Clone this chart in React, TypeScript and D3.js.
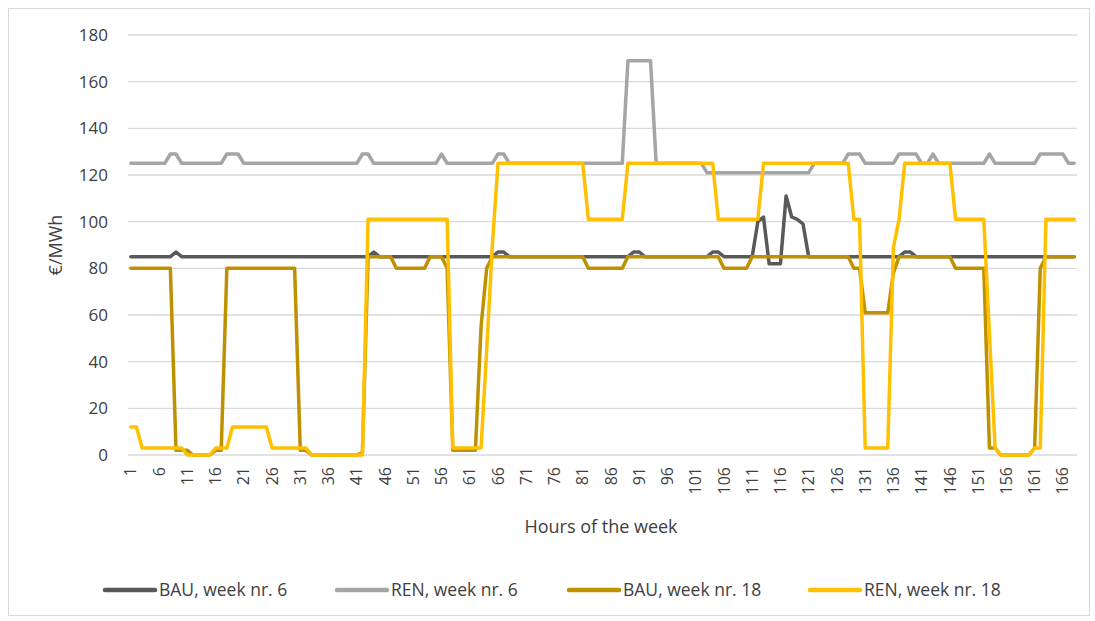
import React from "react";
import * as d3 from "d3";

// hours of the week, 1..168
const hours: number[] = d3.range(1, 169);

const bauWeek6 = [
  85, 85, 85, 85, 85, 85, 85, 85, 87, 85, 85, 85,
  85, 85, 85, 85, 85, 85, 85, 85, 85, 85, 85, 85,
  85, 85, 85, 85, 85, 85, 85, 85, 85, 85, 85, 85,
  85, 85, 85, 85, 85, 85, 85, 87, 85, 85, 85, 85,
  85, 85, 85, 85, 85, 85, 85, 85, 85, 85, 85, 85,
  85, 85, 85, 85, 85, 87, 87, 85, 85, 85, 85, 85,
  85, 85, 85, 85, 85, 85, 85, 85, 85, 85, 85, 85,
  85, 85, 85, 85, 85, 87, 87, 85, 85, 85, 85, 85,
  85, 85, 85, 85, 85, 85, 85, 87, 87, 85, 85, 85,
  85, 85, 85, 100, 102, 82, 82, 82, 111, 102, 101, 99,
  85, 85, 85, 85, 85, 85, 85, 85, 85, 85, 85, 85,
  85, 85, 85, 85, 85, 87, 87, 85, 85, 85, 85, 85,
  85, 85, 85, 85, 85, 85, 85, 85, 85, 85, 85, 85,
  85, 85, 85, 85, 85, 85, 85, 85, 85, 85, 85, 85,
];

const renWeek6 = [
  125, 125, 125, 125, 125, 125, 125, 129, 129, 125, 125, 125,
  125, 125, 125, 125, 125, 129, 129, 129, 125, 125, 125, 125,
  125, 125, 125, 125, 125, 125, 125, 125, 125, 125, 125, 125,
  125, 125, 125, 125, 125, 129, 129, 125, 125, 125, 125, 125,
  125, 125, 125, 125, 125, 125, 125, 129, 125, 125, 125, 125,
  125, 125, 125, 125, 125, 129, 129, 125, 125, 125, 125, 125,
  125, 125, 125, 125, 125, 125, 125, 125, 125, 125, 125, 125,
  125, 125, 125, 125, 169, 169, 169, 169, 169, 125, 125, 125,
  125, 125, 125, 125, 125, 125, 121, 121, 121, 121, 121, 121,
  121, 121, 121, 121, 121, 121, 121, 121, 121, 121, 121, 121,
  121, 125, 125, 125, 125, 125, 125, 129, 129, 129, 125, 125,
  125, 125, 125, 125, 129, 129, 129, 129, 125, 125, 129, 125,
  125, 125, 125, 125, 125, 125, 125, 125, 129, 125, 125, 125,
  125, 125, 125, 125, 125, 129, 129, 129, 129, 129, 125, 125,
];

const bauWeek18 = [
  80, 80, 80, 80, 80, 80, 80, 80, 2, 2, 2, 0,
  0, 0, 0, 2, 2, 80, 80, 80, 80, 80, 80, 80,
  80, 80, 80, 80, 80, 80, 2, 2, 0, 0, 0, 0,
  0, 0, 0, 0, 0, 1, 85, 85, 85, 85, 85, 80,
  80, 80, 80, 80, 80, 85, 85, 85, 80, 2, 2, 2,
  2, 2, 55, 80, 85, 85, 85, 85, 85, 85, 85, 85,
  85, 85, 85, 85, 85, 85, 85, 85, 85, 80, 80, 80,
  80, 80, 80, 80, 85, 85, 85, 85, 85, 85, 85, 85,
  85, 85, 85, 85, 85, 85, 85, 85, 85, 80, 80, 80,
  80, 80, 85, 85, 85, 85, 85, 85, 85, 85, 85, 85,
  85, 85, 85, 85, 85, 85, 85, 85, 80, 80, 61, 61,
  61, 61, 61, 78, 85, 85, 85, 85, 85, 85, 85, 85,
  85, 85, 80, 80, 80, 80, 80, 80, 3, 3, 0, 0,
  0, 0, 0, 0, 3, 80, 85, 85, 85, 85, 85, 85,
];

const renWeek18 = [
  12, 12, 3, 3, 3, 3, 3, 3, 3, 3, 0, 0,
  0, 0, 0, 3, 3, 3, 12, 12, 12, 12, 12, 12,
  12, 3, 3, 3, 3, 3, 3, 3, 0, 0, 0, 0,
  0, 0, 0, 0, 0, 0, 101, 101, 101, 101, 101, 101,
  101, 101, 101, 101, 101, 101, 101, 101, 101, 3, 3, 3,
  3, 3, 3, 45, 90, 125, 125, 125, 125, 125, 125, 125,
  125, 125, 125, 125, 125, 125, 125, 125, 125, 101, 101, 101,
  101, 101, 101, 101, 125, 125, 125, 125, 125, 125, 125, 125,
  125, 125, 125, 125, 125, 125, 125, 125, 101, 101, 101, 101,
  101, 101, 101, 101, 125, 125, 125, 125, 125, 125, 125, 125,
  125, 125, 125, 125, 125, 125, 125, 125, 101, 101, 3, 3,
  3, 3, 3, 89, 101, 125, 125, 125, 125, 125, 125, 125,
  125, 125, 101, 101, 101, 101, 101, 101, 52, 3, 0, 0,
  0, 0, 0, 0, 3, 3, 101, 101, 101, 101, 101, 101,
];

const yTicks = [0, 20, 40, 60, 80, 100, 120, 140, 160, 180];
const xTickLabels = hours.filter((h) => (h - 1) % 5 === 0);

const series = [
  { name: "BAU, week nr. 6", values: bauWeek6, color: "#595959" },
  { name: "REN, week nr. 6", values: renWeek6, color: "#a5a5a5" },
  { name: "BAU, week nr. 18", values: bauWeek18, color: "#bf9000" },
  { name: "REN, week nr. 18", values: renWeek18, color: "#ffc000" },
];

const legendX = [105, 337, 569, 810];

const W = 1095;
const H = 621;
const font = "'Open Sans', 'Noto Sans', sans-serif";

const App: React.FC = () => {
  const x = d3.scaleBand<number>().domain(hours).range([128, 1077]);
  const y = d3.scaleLinear().domain([0, 180]).range([455, 35]);
  const cx = (h: number) => (x(h) ?? 0) + x.bandwidth() / 2;

  const line = d3
    .line<number>()
    .x((_, i) => cx(hours[i]))
    .y((d) => y(d));

  return (
    <svg
      width={W}
      height={H}
      style={{ position: "absolute", left: 0, top: 0, background: "#fff" }}
      fontFamily={font}
    >
      <rect x={8.5} y={8.5} width={1081} height={607} fill="#fff" stroke="#d9d9d9" />

      {yTicks.map((t) => (
        <g key={t}>
          <line x1={128} x2={1077} y1={y(t)} y2={y(t)} stroke="#d9d9d9" strokeWidth={1.3} />
          <text x={108} y={y(t)} dy="0.35em" textAnchor="end" fontSize={17} fill="#404040">
            {t}
          </text>
        </g>
      ))}

      <text
        transform={`translate(56,${y(90)}) rotate(-90)`}
        textAnchor="middle"
        dy="0.35em"
        fontSize={18}
        fill="#404040"
      >
        €/MWh
      </text>

      {xTickLabels.map((h) => (
        <text
          key={h}
          transform={`translate(${cx(h)},${467}) rotate(-90)`}
          textAnchor="end"
          dy="0.35em"
          fontSize={16}
          fill="#404040"
        >
          {h}
        </text>
      ))}

      <text x={601} y={527} dy="0.35em" textAnchor="middle" fontSize={18} fill="#404040">
        Hours of the week
      </text>

      {series.map((s) => (
        <path
          key={s.name}
          d={line(s.values) ?? ""}
          fill="none"
          stroke={s.color}
          strokeWidth={3.5}
          strokeLinejoin="round"
          strokeLinecap="round"
        />
      ))}

      {series.map((s, i) => (
        <g key={s.name} transform={`translate(${legendX[i]},590)`}>
          <line x1={0} x2={50} y1={0} y2={0} stroke={s.color} strokeWidth={4.5} strokeLinecap="round" />
          <text x={54} dy="0.35em" fontSize={17.5} fill="#404040">
            {s.name}
          </text>
        </g>
      ))}
    </svg>
  );
};

export default App;
